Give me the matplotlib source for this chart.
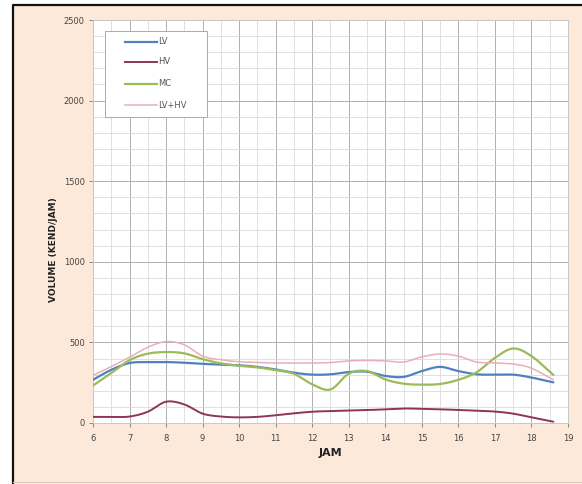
import numpy as np
import matplotlib
matplotlib.use("Agg")
import matplotlib.pyplot as plt
from matplotlib.patches import Rectangle
from matplotlib.lines import Line2D
from matplotlib.ticker import MultipleLocator

# Hourly traffic volume (vehicles/hour) sampled every half hour
hours = [6.0, 6.5, 7.0, 7.5, 8.0, 8.5, 9.0, 9.5, 10.0, 10.5, 11.0, 11.5, 12.0,
         12.5, 13.0, 13.5, 14.0, 14.5, 15.0, 15.5, 16.0, 16.5, 17.0, 17.5, 18.0, 18.6]
lv = [268, 330, 372, 378, 378, 374, 367, 362, 358, 348, 332, 312, 300,
      302, 316, 318, 292, 286, 322, 348, 322, 302, 300, 300, 282, 252]
hv = [38, 38, 40, 70, 132, 115, 58, 40, 35, 38, 48, 60, 70,
      74, 77, 80, 85, 90, 88, 85, 81, 76, 71, 58, 35, 8]
mc = [232, 310, 390, 430, 440, 432, 396, 370, 355, 345, 328, 305, 240,
      208, 306, 322, 270, 244, 238, 242, 268, 315, 404, 462, 415, 298]
lv_hv = [295, 350, 408, 470, 505, 485, 415, 392, 380, 376, 372, 372, 372,
         375, 385, 388, 385, 378, 410, 428, 415, 378, 373, 366, 340, 268]

series = [("LV", lv), ("HV", hv), ("MC", mc), ("LV+HV", lv_hv)]
colors = {"LV": "#4F81BD", "HV": "#8E3553", "MC": "#9BBB59", "LV+HV": "#E8AEBB"}
widths = {"LV": 1.6, "HV": 1.4, "MC": 1.6, "LV+HV": 1.1}

x_ticks = list(range(6, 20))
y_ticks = [0, 500, 1000, 1500, 2000, 2500]

NARROW = ["Liberation Sans Narrow", "DejaVu Sans"]


def smooth(x, y, n=20):
    """Catmull-Rom curve through the points (smoothed line look)."""
    x = np.asarray(x, float)
    y = np.asarray(y, float)
    px = np.concatenate([[2 * x[0] - x[1]], x, [2 * x[-1] - x[-2]]])
    py = np.concatenate([[2 * y[0] - y[1]], y, [2 * y[-1] - y[-2]]])
    xs, ys = [], []
    t = np.linspace(0, 1, n, endpoint=False)
    for i in range(1, len(px) - 2):
        for arr, out in ((px, xs), (py, ys)):
            p0, p1, p2, p3 = arr[i - 1], arr[i], arr[i + 1], arr[i + 2]
            out.extend(0.5 * ((2 * p1) + (-p0 + p2) * t
                              + (2 * p0 - 5 * p1 + 4 * p2 - p3) * t ** 2
                              + (-p0 + 3 * p1 - 3 * p2 + p3) * t ** 3))
    xs.append(x[-1])
    ys.append(y[-1])
    return np.array(xs), np.array(ys)


W, H = 582, 484
fig = plt.figure(figsize=(W / 100, H / 100), dpi=100, facecolor="white")


def fx(p):
    return p / W


def fy(p):
    return 1 - p / H


# Chart-area panel: peach fill, dark frame on top/left, faint line at bottom
fig.add_artist(Rectangle((fx(13), 0), 1 - fx(13), fy(5), transform=fig.transFigure,
                         facecolor="#FDE9DA", edgecolor="none", zorder=-10))
fig.add_artist(Line2D([fx(13), fx(13), 1], [0, fy(5), fy(5)], transform=fig.transFigure,
                      color="#111111", lw=1.6, zorder=-9))
fig.add_artist(Line2D([fx(13), 1], [fy(481.5), fy(481.5)], transform=fig.transFigure,
                      color="#D8CCC2", lw=0.8, zorder=-9))

ax = fig.add_axes([fx(93), fy(423), (568 - 93) / W, (423 - 20) / H], zorder=1)
ax.set_facecolor("white")

for name, vals in series:
    sx, sy = smooth(hours, vals)
    ax.plot(sx, sy, color=colors[name], lw=widths[name],
            solid_capstyle="round", zorder=3)

ax.set_xlim(6, 19)
ax.set_ylim(0, 2500)
ax.set_xticks(x_ticks)
ax.set_yticks(y_ticks)
ax.xaxis.set_minor_locator(MultipleLocator(0.5))
ax.yaxis.set_minor_locator(MultipleLocator(100))
ax.grid(which="major", color="#B0B0B0", lw=0.7)
ax.grid(which="minor", color="#DADADA", lw=0.6)
ax.set_axisbelow(True)

for s in ax.spines.values():
    s.set_color("#C8C8C8")
    s.set_linewidth(0.7)

ax.tick_params(which="major", labelsize=6, colors="#777777", length=3,
               width=0.6, pad=3)
ax.tick_params(axis="x", pad=5)
ax.tick_params(which="minor", length=0)
ax.tick_params(axis="both", labelcolor="#444444")
for lab in ax.get_xticklabels() + ax.get_yticklabels():
    lab.set_family(NARROW)

ax.set_xlabel("JAM", fontsize=8, fontweight="bold", color="#222222")
ax.xaxis.set_label_coords(0.5, -(453 - 423) / 403, transform=ax.transAxes)
ax.xaxis.label.set_va("center")
ax.set_ylabel("VOLUME (KEND/JAM)", fontsize=6.5, fontweight="bold", color="#222222",
              family=NARROW)
ax.yaxis.set_label_coords(-(93 - 54) / 475, (423 - 250) / 403)
ax.yaxis.label.set_va("center")

# Legend box
fig.add_artist(Rectangle((fx(105), fy(117)), (207 - 105) / W, (117 - 31) / H,
                         transform=fig.transFigure, facecolor="white",
                         edgecolor="#AAAAAA", lw=0.7, zorder=5))
for i, (name, _) in enumerate(series):
    yy = fy([42, 62, 84, 105][i])
    fig.add_artist(Line2D([fx(125), fx(157)], [yy, yy], transform=fig.transFigure,
                          color=colors[name], lw=widths[name], zorder=6))
    fig.text(fx(158), yy, name, fontsize=6, color="#555555", va="center",
             ha="left", family=NARROW, zorder=6)

fig.savefig("out.png", dpi=100, facecolor=fig.get_facecolor())
